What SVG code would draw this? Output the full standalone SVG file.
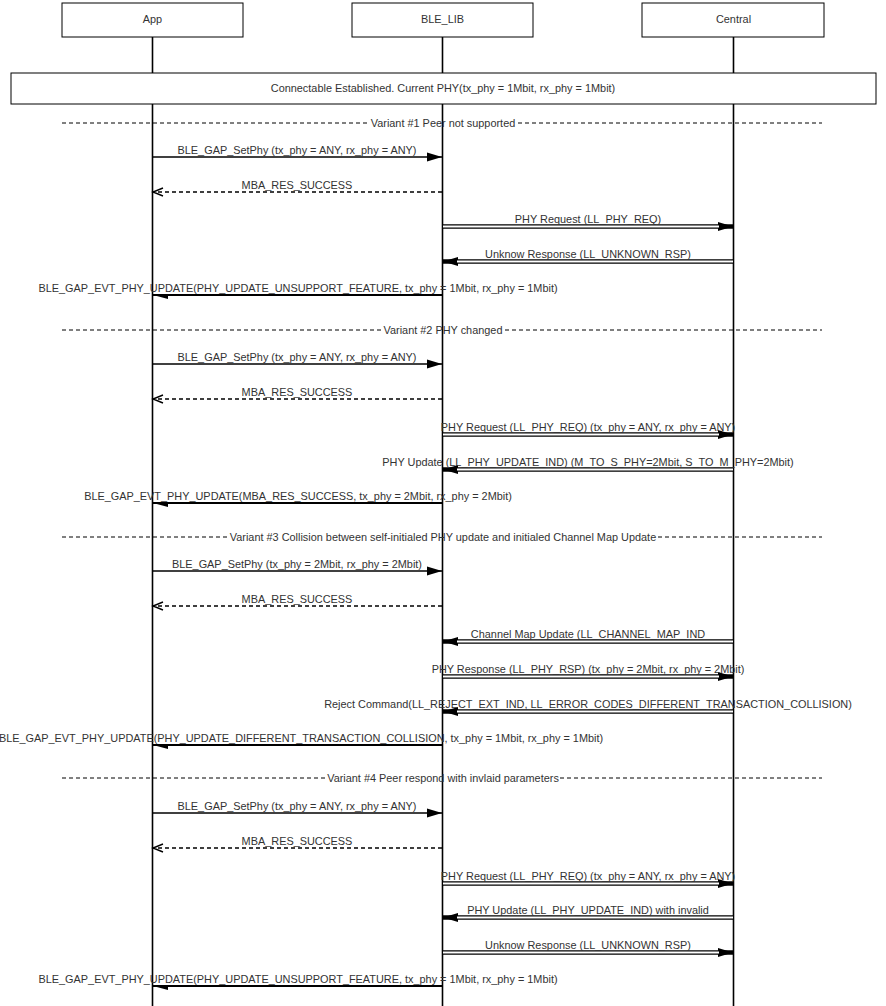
<svg xmlns="http://www.w3.org/2000/svg" width="886" height="1006" viewBox="0 0 886 1006">
<defs>
<style>
text{font-family:"Liberation Sans",Arial,sans-serif;font-size:10.9px;fill:#333;text-anchor:middle}
.box{fill:#fff;stroke:#000;stroke-width:1}
.life{stroke:#000;stroke-width:1.6;fill:none}
.sep{stroke:#000;stroke-width:1;stroke-dasharray:4 3;fill:none}
.call{stroke:#000;stroke-width:1.6;fill:none;marker-end:url(#fa)}
.ret{stroke:#000;stroke-width:1.4;stroke-dasharray:4 3;fill:none;marker-end:url(#oa)}
.dblo{stroke:#000;stroke-width:4.6;fill:none;marker-end:url(#fa)}
.dbli{stroke:#fff;stroke-width:2.2;fill:none}
.evt{stroke:#000;stroke-width:2;fill:none;marker-end:url(#ha)}
</style>
<marker id="fa" markerUnits="userSpaceOnUse" markerWidth="16" markerHeight="10" refX="15" refY="4.5" orient="auto" overflow="visible"><path d="M0,0 L15,4.5 L0,9 z" fill="#000" stroke="none"/></marker>
<marker id="oa" markerUnits="userSpaceOnUse" markerWidth="12" markerHeight="10" refX="10" refY="4.5" orient="auto" overflow="visible"><path d="M0,0.5 L10,4.5 L0,8.5" fill="none" stroke="#000" stroke-width="1.4"/></marker>
<marker id="ha" markerUnits="userSpaceOnUse" markerWidth="16" markerHeight="10" refX="15" refY="0" orient="auto" overflow="visible"><path d="M0,0 L15,0 L0,-4 z" fill="#000" stroke="none"/></marker>
</defs>
<rect width="886" height="1006" fill="#fff"/>
<g id="separators">
<path class="sep" d="M62,123 H368 M518,123 H822"/>
<path class="sep" d="M62,330 H382 M505,330 H822"/>
<path class="sep" d="M62,537 H228 M658,537 H822"/>
<path class="sep" d="M62,778 H326 M560,778 H822"/>
</g>
<g id="app">
<rect class="box" x="62" y="3" width="181" height="34"/>
<text x="152.5" y="23">App</text>
<path class="life" d="M152.5,37 V1006"/>
</g>
<g id="ble_lib">
<rect class="box" x="352" y="3" width="181" height="34"/>
<text x="442.5" y="23">BLE_LIB</text>
<path class="life" d="M442.5,37 V1006"/>
</g>
<g id="central">
<rect class="box" x="642" y="3" width="182" height="34"/>
<text x="733.5" y="23">Central</text>
<path class="life" d="M733.5,37 V1006"/>
</g>
<g id="state">
<rect class="box" x="11" y="73" width="865" height="31"/>
<text x="443" y="92">Connectable Established. Current PHY(tx_phy = 1Mbit, rx_phy = 1Mbit)</text>
</g>
<g id="separator-labels">
<text x="443" y="127">Variant #1 Peer not supported</text>
<text x="443" y="334">Variant #2 PHY changed</text>
<text x="443" y="541">Variant #3 Collision between self-initialed PHY update and initialed Channel Map Update</text>
<text x="443" y="782">Variant #4 Peer respond with invlaid parameters</text>
</g>
<g id="connectors">
<path class="call" d="M153,157 H442"/>
<text x="297" y="154">BLE_GAP_SetPhy (tx_phy = ANY, rx_phy = ANY)</text>
<path class="ret" d="M442,192 H153"/>
<text x="297" y="189">MBA_RES_SUCCESS</text>
<path class="dblo" d="M443,226.5 H733"/><path class="dbli" d="M443,226.5 H719"/>
<text x="588" y="223">PHY Request (LL_PHY_REQ)</text>
<path class="dblo" d="M733,261.5 H443"/><path class="dbli" d="M733,261.5 H457"/>
<text x="588" y="258">Unknow Response (LL_UNKNOWN_RSP)</text>
<path class="evt" d="M442,295 H153"/>
<text x="298" y="292">BLE_GAP_EVT_PHY_UPDATE(PHY_UPDATE_UNSUPPORT_FEATURE, tx_phy = 1Mbit, rx_phy = 1Mbit)</text>
<path class="call" d="M153,364 H442"/>
<text x="297" y="361">BLE_GAP_SetPhy (tx_phy = ANY, rx_phy = ANY)</text>
<path class="ret" d="M442,399 H153"/>
<text x="297" y="396">MBA_RES_SUCCESS</text>
<path class="dblo" d="M443,434.5 H733"/><path class="dbli" d="M443,434.5 H719"/>
<text x="588" y="431">PHY Request (LL_PHY_REQ) (tx_phy = ANY, rx_phy = ANY)</text>
<path class="dblo" d="M733,469.5 H443"/><path class="dbli" d="M733,469.5 H457"/>
<text x="588" y="466">PHY Update (LL_PHY_UPDATE_IND) (M_TO_S_PHY=2Mbit, S_TO_M_PHY=2Mbit)</text>
<path class="evt" d="M442,503 H153"/>
<text x="298" y="500">BLE_GAP_EVT_PHY_UPDATE(MBA_RES_SUCCESS, tx_phy = 2Mbit, rx_phy = 2Mbit)</text>
<path class="call" d="M153,571 H442"/>
<text x="297" y="568">BLE_GAP_SetPhy (tx_phy = 2Mbit, rx_phy = 2Mbit)</text>
<path class="ret" d="M442,606 H153"/>
<text x="297" y="603">MBA_RES_SUCCESS</text>
<path class="dblo" d="M733,641.5 H443"/><path class="dbli" d="M733,641.5 H457"/>
<text x="588" y="638">Channel Map Update (LL_CHANNEL_MAP_IND</text>
<path class="dblo" d="M443,676.5 H733"/><path class="dbli" d="M443,676.5 H719"/>
<text x="588" y="673">PHY Response (LL_PHY_RSP) (tx_phy = 2Mbit, rx_phy = 2Mbit)</text>
<path class="dblo" d="M733,711.5 H443"/><path class="dbli" d="M733,711.5 H457"/>
<text x="588" y="708">Reject Command(LL_REJECT_EXT_IND, LL_ERROR_CODES_DIFFERENT_TRANSACTION_COLLISION)</text>
<path class="evt" d="M442,745 H153"/>
<text x="301" y="742">BLE_GAP_EVT_PHY_UPDATE(PHY_UPDATE_DIFFERENT_TRANSACTION_COLLISION, tx_phy = 1Mbit, rx_phy = 1Mbit)</text>
<path class="call" d="M153,813 H442"/>
<text x="297" y="810">BLE_GAP_SetPhy (tx_phy = ANY, rx_phy = ANY)</text>
<path class="ret" d="M442,848 H153"/>
<text x="297" y="845">MBA_RES_SUCCESS</text>
<path class="dblo" d="M443,883.5 H733"/><path class="dbli" d="M443,883.5 H719"/>
<text x="588" y="880">PHY Request (LL_PHY_REQ) (tx_phy = ANY, rx_phy = ANY)</text>
<path class="dblo" d="M733,917.5 H443"/><path class="dbli" d="M733,917.5 H457"/>
<text x="588" y="914">PHY Update (LL_PHY_UPDATE_IND) with invalid</text>
<path class="dblo" d="M443,952.5 H733"/><path class="dbli" d="M443,952.5 H719"/>
<text x="588" y="949">Unknow Response (LL_UNKNOWN_RSP)</text>
<path class="evt" d="M442,986 H153"/>
<text x="298" y="983">BLE_GAP_EVT_PHY_UPDATE(PHY_UPDATE_UNSUPPORT_FEATURE, tx_phy = 1Mbit, rx_phy = 1Mbit)</text>
</g>
</svg>
